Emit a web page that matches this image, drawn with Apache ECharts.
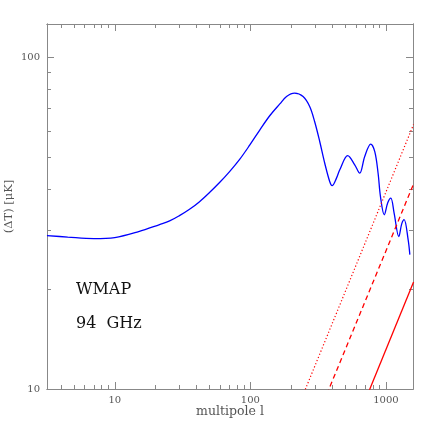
<!DOCTYPE html>
<html>
<head>
<meta charset="utf-8">
<script src="https://cdn.jsdelivr.net/npm/echarts@6/dist/echarts.min.js"></script>
<style>
  html, body { margin: 0; padding: 0; background: #fff; }
  #chart { width: 436px; height: 436px; }
</style>
</head>
<body>
<div id="chart"></div>
<script>
// power spectrum
const blueL = [3.16, 4.5, 7, 10, 15, 21.4, 25.4, 30, 35.6, 42.2, 50, 59.3, 70.3, 83.4, 98.9, 117, 139, 165, 185, 212, 245, 274, 298, 325, 354,
  385, 401, 432, 457, 523, 589, 641, 698, 773, 828, 876, 912, 973, 1032, 1087, 1150, 1245, 1310, 1363, 1459, 1502]
const blueT = [29.0, 28.7, 28.4, 28.6, 29.8, 31.3, 32.1, 33.3, 34.8, 36.7, 39.1, 41.9, 45.2, 49.2, 54.3, 60.2, 66.6, 72.3, 76.1, 77.9, 76.1, 71.0, 64.0, 55.7, 47.9,
  42.2, 41.0, 43.2, 45.8, 50.5, 47.4, 44.7, 50.2, 54.7, 51.9, 44.7, 38.0, 33.5, 36.4, 37.6, 33.9, 28.8, 31.5, 32.4, 28.2, 25.4]

// noise lines
const noiseL = [200, 1600]
const dottedT = [7.84, 62.7]
const dashedT = [5.29, 41.5]
const solidT = [2.63, 21.0]

// ticks
const xMajor = [10, 100, 1000]
const xMinor = [4, 5, 6, 7, 8, 9, 20, 30, 40, 50, 60, 70, 80, 90, 200, 300, 400, 500, 600, 700, 800, 900]
const yMajor = [10, 100]
const yMinor = [20, 30, 40, 50, 60, 70, 80, 90]

const xMin = Math.pow(10, 0.5)
const xMax = Math.pow(10, 3.2)
const yMin = 10
const yMax = Math.pow(10, 2.1)

const axisColor = '#888'
const labelColor = '#555'
const serif = 'DejaVu Serif'

function pairs(xs, ys) {
  return xs.map((x, i) => [x, ys[i]])
}

function xAxisOf(position, ticks, len, withLabel) {
  return {
    type: 'log',
    logBase: 10,
    min: xMin,
    max: xMax,
    position: position,
    axisLine: { show: true, onZero: false, lineStyle: { color: axisColor, width: 1 } },
    axisTick: { show: true, inside: true, length: len, customValues: ticks, lineStyle: { color: axisColor } },
    axisLabel: {
      show: withLabel,
      customValues: xMajor,
      formatter: v => String(Math.round(v)),
      margin: 6,
      color: labelColor,
      fontFamily: serif,
      fontSize: 10
    },
    splitLine: { show: false },
    minorTick: { show: false }
  }
}

function yAxisOf(position, ticks, len, withLabel) {
  return {
    type: 'log',
    logBase: 10,
    min: yMin,
    max: yMax,
    position: position,
    axisLine: { show: true, onZero: false, lineStyle: { color: axisColor, width: 1 } },
    axisTick: { show: true, inside: true, length: len, customValues: ticks, lineStyle: { color: axisColor } },
    axisLabel: {
      show: withLabel,
      customValues: yMajor,
      formatter: v => String(Math.round(v)),
      margin: 7,
      color: labelColor,
      fontFamily: serif,
      fontSize: 10
    },
    splitLine: { show: false },
    minorTick: { show: false }
  }
}

const chart = echarts.init(document.getElementById('chart'), null, { renderer: 'canvas' })

const xBottom = xAxisOf('bottom', xMajor, 7, true)
xBottom.name = 'multipole l'
xBottom.nameLocation = 'middle'
xBottom.nameGap = 16
xBottom.nameMoveOverlap = false
xBottom.nameTextStyle = { color: labelColor, fontFamily: serif, fontSize: 12.5 }

const yLeft = yAxisOf('left', yMajor, 7, true)
yLeft.name = '(ΔT) [μK]'
yLeft.nameLocation = 'middle'
yLeft.nameGap = 32
yLeft.nameMoveOverlap = false
yLeft.nameTextStyle = { color: labelColor, fontFamily: serif, fontSize: 11.5 }

chart.setOption({
  animation: false,
  backgroundColor: '#fff',
  grid: { left: 47, top: 24, width: 366, height: 365, containLabel: false, outerBoundsMode: 'none' },
  xAxis: [
    xBottom,
    xAxisOf('bottom', xMinor, 4, false),
    xAxisOf('top', xMajor, 7, false),
    xAxisOf('top', xMinor, 4, false)
  ],
  yAxis: [
    yLeft,
    yAxisOf('left', yMinor, 4, false),
    yAxisOf('right', yMajor, 7, false),
    yAxisOf('right', yMinor, 4, false)
  ],
  graphic: [
    {
      type: 'text',
      left: 76,
      top: 282,
      style: { text: 'WMAP', fill: '#111', font: '16px "DejaVu Serif"' }
    },
    {
      type: 'text',
      left: 76,
      top: 315.5,
      style: { text: '94  GHz', fill: '#111', font: '16px "DejaVu Serif"' }
    }
  ],
  series: [
    {
      name: 'spectrum',
      type: 'line',
      data: pairs(blueL, blueT),
      smooth: 0.35,
      symbol: 'none',
      lineStyle: { color: '#0000ff', width: 1.3 }
    },
    {
      name: 'dotted',
      type: 'line',
      data: pairs(noiseL, dottedT),
      symbol: 'none',
      lineStyle: { color: '#ff0000', width: 1.2, type: [1.2, 2.2] }
    },
    {
      name: 'dashed',
      type: 'line',
      data: pairs(noiseL, dashedT),
      symbol: 'none',
      lineStyle: { color: '#ff0000', width: 1.3, type: [5, 3.5] }
    },
    {
      name: 'solid',
      type: 'line',
      data: pairs(noiseL, solidT),
      symbol: 'none',
      lineStyle: { color: '#ff0000', width: 1.3 }
    }
  ]
})
</script>
</body>
</html>
